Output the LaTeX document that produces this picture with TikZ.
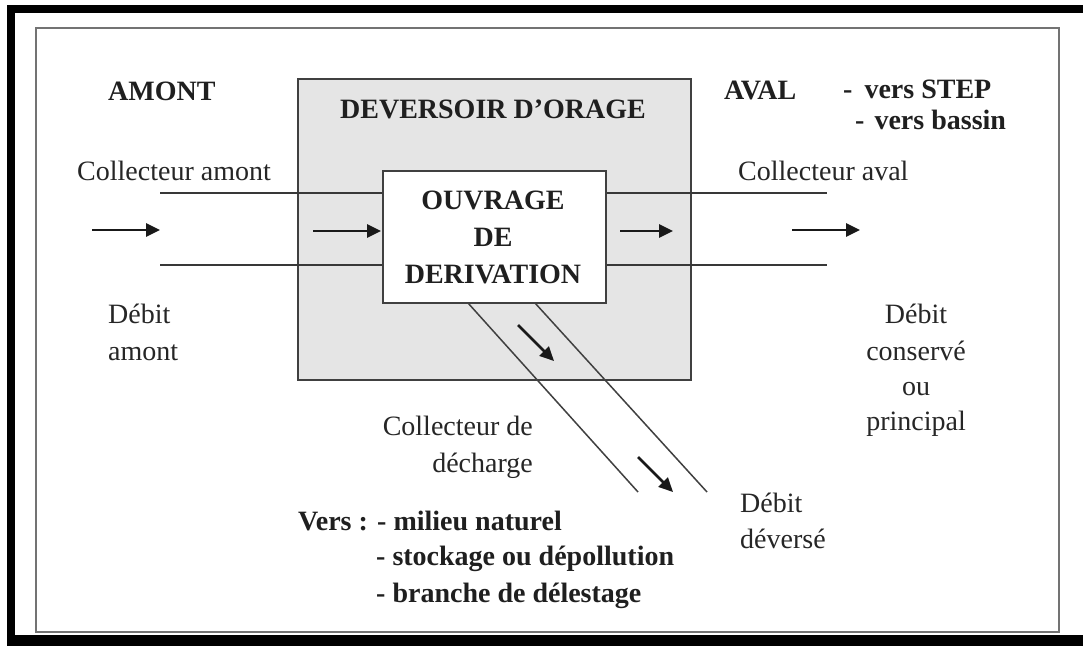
\documentclass[tikz,border=0pt]{standalone}
\usepackage{fontspec}
\setmainfont{Liberation Serif}
\usetikzlibrary{arrows.meta}
\begin{document}
\begin{tikzpicture}[x=1pt,y=-1pt,
  txt/.style={inner sep=0pt, font=\fontsize{28}{37}\selectfont, text=black!85},
  btxt/.style={inner sep=0pt, font=\fontsize{28}{37}\selectfont\bfseries, text=black!88},
  pipe/.style={draw=black!78, line width=1.8pt},
  dpipe/.style={draw=black!75, line width=1.5pt},
  flow/.style={draw=black!90, line width=2.6pt, -{Triangle[length=14pt,width=13pt]}},
  boxstyle/.style={draw=black!75, line width=1.8pt, inner sep=0pt, anchor=north west},
]
\useasboundingbox (0,0) rectangle (1083,646);
% frames
\fill[black] (7,5) rectangle (1083,646);
\fill[white] (15,13) rectangle (1083,635);
\draw[black!55, line width=2.5pt] (36,28) rectangle (1059,632);

% boxes
\node[boxstyle, fill=black!10, minimum width=393pt, minimum height=301pt] (dev) at (297,78) {};
\node[btxt, anchor=base] (devlbl) at (493,118) {DEVERSOIR D’ORAGE};

% pipes
\coordinate (ua) at (160,193);
\coordinate (la) at (160,265);
\coordinate (ub) at (827,193);
\coordinate (lb) at (827,265);
\draw[pipe] (ua) -- (382,193);
\draw[pipe] (la) -- (382,265);
\draw[pipe] (605,193) -- (ub);
\draw[pipe] (605,265) -- (lb);

\node[boxstyle, fill=white, minimum width=223pt, minimum height=132pt] (ouv) at (382,170) {};
\node[btxt, anchor=base] (o1) at (493,209) {OUVRAGE};
\node[btxt, anchor=base] (o2) at (493,246) {DE};
\node[btxt, anchor=base] (o3) at (493,283) {DERIVATION};

% diagonal discharge pipe
\coordinate (d1s) at (468,303);
\coordinate (d1e) at (638,492);
\coordinate (d2s) at (535,303);
\coordinate (d2e) at (707,492);
\draw[dpipe] (d1s) -- (d1e);
\draw[dpipe] (d2s) -- (d2e);

% flow arrows
\coordinate (a1s) at (92,230);  \coordinate (a1e) at (160,230);
\coordinate (a2s) at (313,231); \coordinate (a2e) at (381,231);
\coordinate (a3s) at (620,231); \coordinate (a3e) at (673,231);
\coordinate (a4s) at (792,230); \coordinate (a4e) at (860,230);
\coordinate (a5s) at (518,325); \coordinate (a5e) at (554,361);
\coordinate (a6s) at (638,457); \coordinate (a6e) at (673,492);
\draw[flow] (a1s) -- (a1e);
\draw[flow] (a2s) -- (a2e);
\draw[flow] (a3s) -- (a3e);
\draw[flow] (a4s) -- (a4e);
\draw[flow] (a5s) -- (a5e);
\draw[flow] (a6s) -- (a6e);

% labels
\node[btxt, anchor=base west] (amont) at (108,100) {AMONT};
\node[btxt, anchor=base west] (aval) at (724,99) {AVAL};
\node[btxt, anchor=base west] (step) at (843,98) {-\hspace{12pt}vers STEP};
\node[btxt, anchor=base west] (bassin) at (855,129) {-\hspace{10pt}vers bassin};

\node[txt, anchor=base west] (camont) at (77,180) {Collecteur amont};
\node[txt, anchor=base west] (caval) at (738,180) {Collecteur aval};

\node[txt, anchor=base west] (dam1) at (108,323) {Débit};
\node[txt, anchor=base west] (dam2) at (108,360) {amont};

\node[txt, anchor=base] (dc1) at (916,323) {Débit};
\node[txt, anchor=base] (dc2) at (916,360) {conservé};
\node[txt, anchor=base] (dc3) at (916,395) {ou};
\node[txt, anchor=base] (dc4) at (916,430) {principal};

\node[txt, anchor=base east] (cd1) at (533,435) {Collecteur de};
\node[txt, anchor=base east] (cd2) at (533,472) {décharge};

\node[txt, anchor=base west] (dd1) at (740,512) {Débit};
\node[txt, anchor=base west] (dd2) at (740,548) {déversé};

\node[btxt, anchor=base west] (v1) at (298,530) {Vers : - milieu naturel};
\node[btxt, anchor=base west] (v2) at (376,565) {- stockage ou dépollution};
\node[btxt, anchor=base west] (v3) at (376,602) {- branche de délestage};
\end{tikzpicture}
\end{document}
